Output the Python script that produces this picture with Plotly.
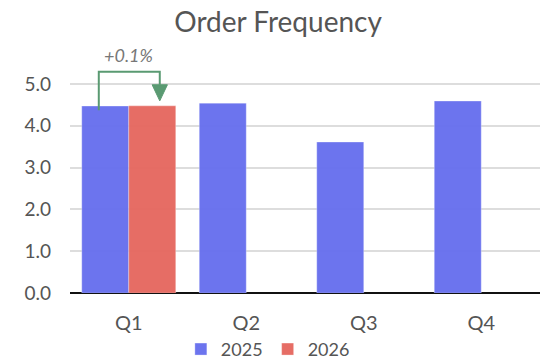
import plotly.graph_objects as go

categories = ["Q1", "Q2", "Q3", "Q4"]
values_2025 = [4.47, 4.54, 3.61, 4.59]
values_2026 = [4.475, None, None, None]
series_names = ["2025", "2026"]
y_tick_vals = [0, 1, 2, 3, 4, 5]
y_tick_text = ["0.0", "1.0", "2.0", "3.0", "4.0", "5.0"]
change_label = "+0.1%"

FONT = "Lato, 'Open Sans', sans-serif"
C2025 = "#6870EE"
C2026 = "#E66961"
GREEN = "#5A9A72"

fig = go.Figure()
fig.add_trace(go.Bar(x=categories, y=values_2025, name=series_names[0],
                     marker=dict(color=C2025, line=dict(color="rgba(255,255,255,0.3)", width=1)),
                     opacity=0.97))
fig.add_trace(go.Bar(x=categories, y=values_2026, name=series_names[1],
                     marker=dict(color=C2026, line=dict(color="rgba(255,255,255,0.3)", width=1)),
                     opacity=0.97))

# bracket annotation (category index 0 = Q1)
xl, xr = -0.255, 0.264
y_start = values_2025[0] - 0.1
y_top = 5.29
y_tip = values_2026[0] + 0.12
y_base = 4.98
dx = 0.065
fig.add_shape(type="path",
              path=f"M {xl},{y_start} L {xl},{y_top} L {xr},{y_top} L {xr},{y_base}",
              line=dict(color=GREEN, width=2), xref="x", yref="y")
fig.add_shape(type="path",
              path=f"M {xr-dx},{y_base} L {xr+dx},{y_base} L {xr},{y_tip} Z",
              line=dict(color=GREEN, width=1), fillcolor=GREEN, xref="x", yref="y")
fig.add_annotation(x=0.0, y=1.035, xref="x", yref="paper", text=f"<i>{change_label}</i>",
                   showarrow=False, yanchor="middle",
                   font=dict(family=FONT, size=18, color="#777777"))

fig.update_layout(
    width=540, height=363,
    margin=dict(l=70, r=0, t=63, b=70, autoexpand=False),
    paper_bgcolor="white", plot_bgcolor="white",
    barmode="group", bargap=0.2, bargroupgap=0,
    title=dict(text="Order Frequency", x=0.515, xanchor="center", y=0.94, yanchor="middle",
               font=dict(family=FONT, size=28, color="#555555")),
    font=dict(family=FONT, color="#555555"),
    showlegend=True,
    legend=dict(orientation="h", x=0.421, xanchor="center", y=-0.245, yanchor="middle",
                font=dict(family=FONT, size=18, color="#555555"), itemwidth=30),
    xaxis=dict(type="category", range=[-0.5, 3.5], showgrid=False, showline=False,
               tickfont=dict(family=FONT, size=20, color="#555555"),
               ticks="", ticklabelstandoff=16),
    yaxis=dict(range=[0, 5.5], tickvals=y_tick_vals, ticktext=y_tick_text,
               showgrid=True, gridcolor="#DDDDDD", gridwidth=1.5,
               zeroline=True, zerolinecolor="#111111", zerolinewidth=2,
               tickfont=dict(family=FONT, size=19, color="#555555"),
               ticks="", ticklabelstandoff=18, showline=False),
)

fig.write_html("out.html")
